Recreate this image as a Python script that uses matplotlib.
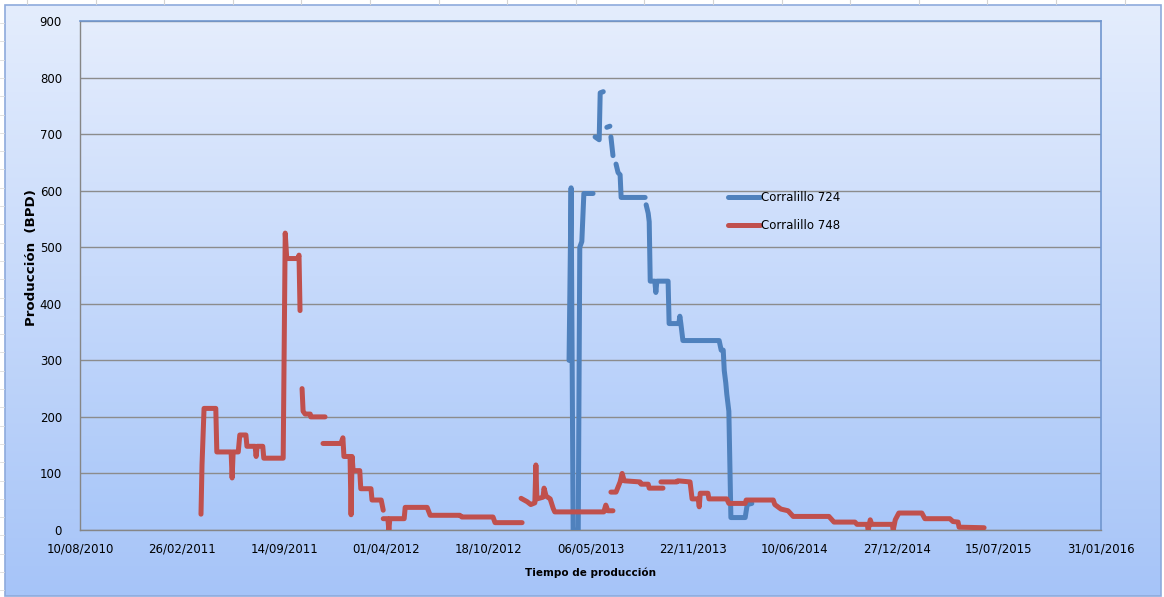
import numpy as np
import pandas as pd
import matplotlib
matplotlib.use("Agg")
import matplotlib.pyplot as plt
import matplotlib.dates as mdates
from matplotlib.colors import LinearSegmentedColormap
from matplotlib.patches import Rectangle
from matplotlib.lines import Line2D

nan = np.nan

# fecha de referencia del eje temporal
inicio = pd.Timestamp("2010-08-10")
fin = pd.Timestamp("2016-01-31")

# Corralillo 724: dias desde el inicio y produccion (BPD); nan corta la linea
dias_724 = [958, 962, 966, 976, 979, 983, 987, 1005, nan,
            1009, 1017, 1019, 1025, nan,
            1032, 1038, nan,
            1040, 1044, nan,
            1050, 1054, 1058, 1060, 1107, nan,
            1109, 1113, 1115, 1117, 1126, 1128, 1130, 1152, 1154, 1173,
            1175, 1177, 1181, 1252, 1256, 1260, 1262, 1265, 1267, 1271,
            1275, 1303, 1307, 1316]
bpd_724 = [300, 605, 0, 0, 500, 510, 595, 595, nan,
           695, 690, 773, 775, nan,
           712, 714, nan,
           695, 662, nan,
           647, 632, 628, 588, 588, nan,
           575, 560, 545, 440, 440, 420, 440, 440, 365, 365,
           378, 365, 335, 335, 318, 318, 282, 260, 240, 210,
           22, 22, 45, 47]

# Corralillo 748
dias_748 = [237, 239, 243, 266, 268, 296, 298, 300, 310, 313, 325, 327,
            343, 345, 347, 358, 360, 398, 402, 405, 427, 429, 431, nan,
            435, 437, 441, 451, 452, 480, nan,
            476, 511, 515, 517, 529, 531, 533, 535, 548, 550, 570, 572,
            590, 594, nan,
            594, 603, 605, 607, 635, 637, 680, 686, 744, 748, 809, 813,
            866, nan,
            864, 876, 883, 891, 893, 895, 907, 909, 913, 921, 927, 930,
            1026, 1030, 1034, 1044, nan,
            1040, 1050, 1058, 1062, 1066, 1097, 1099, 1113, 1115, 1142, nan,
            1138, 1169, 1171, 1195, 1199, 1211, 1213, 1215, 1230, 1232,
            1267, 1271, 1303, 1305, 1358, 1361, 1373, 1387, 1397, 1467,
            1477, 1518, 1522, 1542, 1544, 1548, 1551, 1591, 1593, 1597,
            1604, 1649, 1655, 1704, 1710, 1720, 1722, 1771]
bpd_748 = [28, 115, 215, 215, 138, 138, 92, 138, 138, 168, 168, 148,
           148, 130, 148, 148, 127, 127, 525, 480, 480, 486, 388, nan,
           250, 210, 205, 205, 200, 200, nan,
           153, 153, 163, 130, 130, 27, 130, 105, 105, 73, 73, 53,
           53, 35, nan,
           20, 20, 0, 20, 20, 40, 40, 26, 26, 23, 23, 13,
           13, nan,
           56, 50, 45, 48, 115, 55, 58, 74, 60, 55, 38, 32,
           32, 44, 34, 34, nan,
           67, 67, 85, 100, 87, 85, 81, 81, 74, 74, nan,
           85, 85, 87, 85, 55, 55, 41, 65, 65, 55,
           55, 47, 47, 53, 53, 45, 37, 34, 24, 24,
           14, 14, 10, 10, 0, 18, 10, 10, 0, 18,
           30, 30, 20, 20, 15, 14, 5, 4]

series = [("Corralillo 724", dias_724, bpd_724, "#4F81BD"),
          ("Corralillo 748", dias_748, bpd_748, "#C0504D")]

W, H = 1164, 597
fig = plt.figure(figsize=(W / 100, H / 100), dpi=100, facecolor="white")

# fondo del area del grafico con degradado
grad = LinearSegmentedColormap.from_list("fondo", ["#a6c4f8", "#e4edfd"])
bg = fig.add_axes([5 / W, 1 / H, 1156 / W, 591 / H], zorder=-10)
bg.imshow(np.linspace(0, 1, 256).reshape(-1, 1), cmap=grad, aspect="auto",
          origin="lower", extent=[0, 1, 0, 1])
bg.set_axis_off()
fig.patches.append(Rectangle((5 / W, 1 / H), 1156 / W, 591 / H,
                             transform=fig.transFigure, fill=False,
                             edgecolor="#8eaadc", linewidth=1.2))

# lineas de celdas de la hoja detras del grafico
for xp in np.arange(27, W, 68.6):
    fig.lines.append(Line2D([xp / W, xp / W], [1 - 4 / H, 1], transform=fig.transFigure,
                            color="#d4d4d4", linewidth=0.8))
for yp in np.arange(23, H, 18.3):
    fig.lines.append(Line2D([0, 4 / W], [1 - yp / H, 1 - yp / H], transform=fig.transFigure,
                            color="#dcdcdc", linewidth=0.6))

ax = fig.add_axes([80 / W, 67 / H, 1021 / W, 509 / H])
ax.imshow(np.linspace(0, 1, 256).reshape(-1, 1), cmap=LinearSegmentedColormap.from_list(
    "plot", ["#a9c7f9", "#e5edfd"]), aspect="auto", origin="lower",
    extent=[0, 1, 0, 1], transform=ax.transAxes, zorder=0)

for nombre, dias, bpd, color in series:
    fechas = inicio + pd.to_timedelta(np.array(dias, dtype=float), unit="D")
    ax.plot(fechas, bpd, color=color, linewidth=3.6, label=nombre,
            solid_capstyle="round", solid_joinstyle="round", zorder=3)

ax.set_xlim(inicio, fin)
ax.set_ylim(0, 900)
ax.set_yticks(np.arange(0, 901, 100))
ax.set_xticks(pd.date_range(inicio, periods=11, freq="200D"))
ax.xaxis.set_major_formatter(mdates.DateFormatter("%d/%m/%Y"))
ax.tick_params(axis="both", length=0, labelsize=8.5, colors="black")
ax.tick_params(axis="y", pad=13)
ax.tick_params(axis="x", pad=9)

ax.grid(axis="y", color="#8c8c8c", linewidth=1.0, zorder=1)
ax.set_axisbelow(True)
for s in ["left", "bottom"]:
    ax.spines[s].set_color("#868686")
    ax.spines[s].set_linewidth(1.0)
for s in ["top", "right"]:
    ax.spines[s].set_color("#7096cf")
    ax.spines[s].set_linewidth(1.2)

ax.set_xlabel("Tiempo de producción", fontsize=7.5, fontweight="bold", labelpad=9)
ax.set_ylabel("Producción  (BPD)", fontsize=9.6, fontweight="bold")
ax.yaxis.set_label_coords(-0.041, 0.536)

ax.legend(loc="center left", bbox_to_anchor=(0.635, 0.626), frameon=False,
          fontsize=8.5, handlelength=2.7, handletextpad=0.1, labelspacing=1.3,
          borderpad=0, borderaxespad=0)

fig.savefig("out.png", dpi=100, facecolor="white")
